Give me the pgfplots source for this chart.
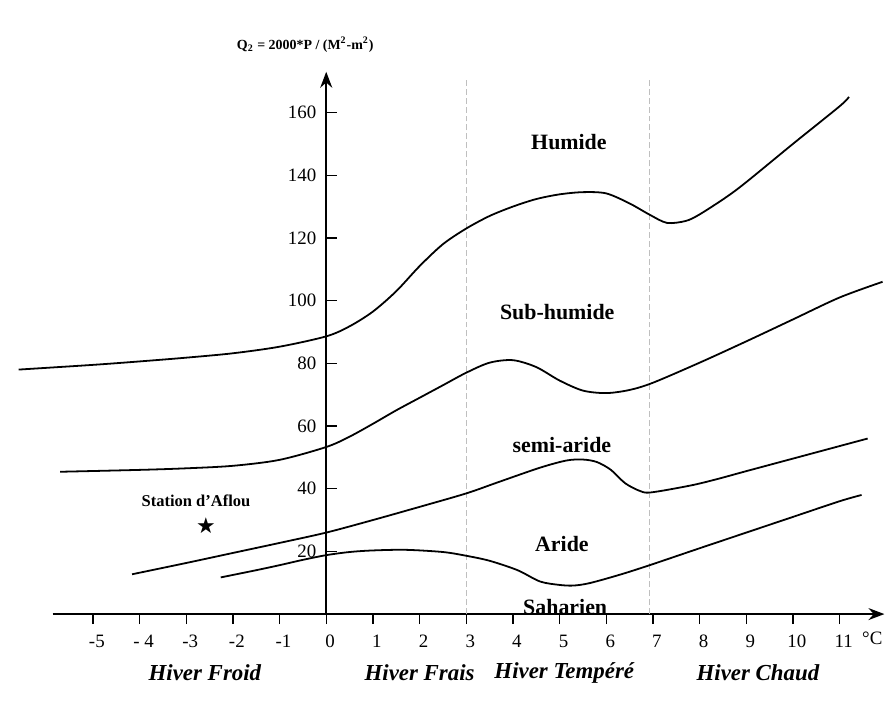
\documentclass[border=0pt]{standalone}
\usepackage{pgfplots}
\pgfplotsset{compat=1.18}
\usepackage{fontspec}
\setmainfont{Liberation Serif}
\newfontfamily\dejavu{DejaVu Sans}
\usetikzlibrary{arrows.meta}

% climagramme d'Emberger
\pgfplotstableread{
T Q
-6.59 78
-5 79.5
-4 80.6
-3 81.8
-2 83.2
-1 85.3
0 88.6
0.5 91.8
1 96.5
1.5 103
2 111
2.5 118
3 123
3.5 127
4 130
4.5 132.4
5 133.9
5.5 134.6
6 134.2
6.5 131
6.93 127.4
7.3 124.8
7.7 125.4
8 127.5
8.57 133
9 137.8
10 150
11 162
11.2 165
}\humide

\pgfplotstableread{
T Q
-5.7 45.4
-4 46
-3 46.5
-2 47.3
-1 49.2
0 53.3
0.5 56.6
1 60.7
1.5 65
2 69
2.5 73
3 77
3.5 80.2
4 81
4.5 78.8
5 74.5
5.5 71.3
6 70.5
6.5 71.5
7 73.8
8 80.2
9 87
10 94
11 101
11.92 106
}\subhumide

\pgfplotstableread{
T Q
-4.16 12.7
-3 16.3
-2 19.5
-1 22.7
0 26
1 30
2 34.2
3 38.5
3.67 42
4.58 46.7
5.15 49
5.5 49.3
5.8 48.5
6.1 46
6.4 41.8
6.7 39.4
6.95 38.8
7.8 41
8.36 43
9 45.6
10 49.6
11 53.6
11.6 56
}\semiaride

\pgfplotstableread{
T Q
-2.26 11.7
-1.5 14
-1 15.6
-0.5 17.3
0 18.8
0.5 19.8
1 20.3
1.7 20.5
2.5 19.8
3 18.6
3.5 17
4.1 14
4.58 10.4
5 9.3
5.3 9.1
5.65 9.9
6.3 12.6
6.93 15.6
8 21
9 26
10 31
11 36
11.47 38
}\aride

\begin{document}
\begin{tikzpicture}
\begin{axis}[
    x=23.45pt, y=1.575pt,
    xmin=-5.86, xmax=11.96,
    ymin=0, ymax=173,
    axis lines=middle,
    axis line style={line width=1pt, -{Stealth[length=8pt,width=6pt]}},
    clip=false,
    hide obscured x ticks=false,
    xtick={-5,-4,...,11},
    xticklabels={-5,- 4,-3,-2,-1,0,1,2,3,4,5,6,7,8,9,10,11},
    ytick={20,40,...,160},
    yticklabels={20,40,60,80,100,120,140,160},
    xtick align=outside, ytick align=outside,
    major tick length=5pt,
    tick style={line width=0.7pt, black},
    y tick style={xshift=5.5pt},
    tick label style={font=\fontsize{9.5}{11}\selectfont},
    x tick label style={yshift=-2pt, xshift=2pt},
    y tick label style={xshift=3.5pt},
]
\addplot[gray!50, dash pattern=on 3pt off 1.5pt, line width=0.6pt] coordinates {(3,0) (3,170.5)};
\addplot[gray!50, dash pattern=on 3pt off 1.5pt, line width=0.6pt] coordinates {(6.93,0) (6.93,170.5)};

\addplot[black, line width=0.9pt, smooth, tension=0.5] table[x=T, y=Q] {\humide};
\addplot[black, line width=0.9pt, smooth, tension=0.5] table[x=T, y=Q] {\subhumide};
\addplot[black, line width=0.9pt, smooth, tension=0.5] table[x=T, y=Q] {\semiaride};
\addplot[black, line width=0.9pt, smooth, tension=0.5] table[x=T, y=Q] {\aride};

\addplot[only marks, mark=text, text mark={\dejavu\fontsize{11}{11}\selectfont ★}] coordinates {(-2.58,28.3)};

% cadre de la page
\path (axis cs:-6.99,195.9) rectangle (axis cs:11.96,-28.25);

\begin{scope}[font=\bfseries\fontsize{11}{13}\selectfont]
\node at (axis cs:5.2,150.5) {Humide};
\node at (axis cs:4.95,96.5) {Sub-humide};
\node at (axis cs:5.05,54) {semi-aride};
\node at (axis cs:5.05,22.5) {Aride};
\node at (axis cs:5.12,2.2) {Saharien};
\end{scope}
\node[font=\bfseries\fontsize{8.3}{10}\selectfont] at (axis cs:-2.79,36.2) {Station d'Aflou};
\node[font=\bfseries\fontsize{7}{9}\selectfont] at (axis cs:-0.45,181.6)
  {Q\textsubscript{2} = 2000*P / (M\textsuperscript{2}-m\textsuperscript{2})};
\node[font=\fontsize{9.5}{11}\selectfont] at (axis cs:11.7,0) [yshift=-12pt] {°C};

\begin{scope}[font=\bfseries\itshape\fontsize{11.5}{13}\selectfont]
\node at (axis cs:-2.6,-18.8) {Hiver Froid};
\node at (axis cs:2,-18.8) {Hiver Frais};
\node at (axis cs:5.1,-18.8) {Hiver Tempéré};
\node at (axis cs:9.25,-18.8) {Hiver Chaud};
\end{scope}
\end{axis}
\end{tikzpicture}
\end{document}
